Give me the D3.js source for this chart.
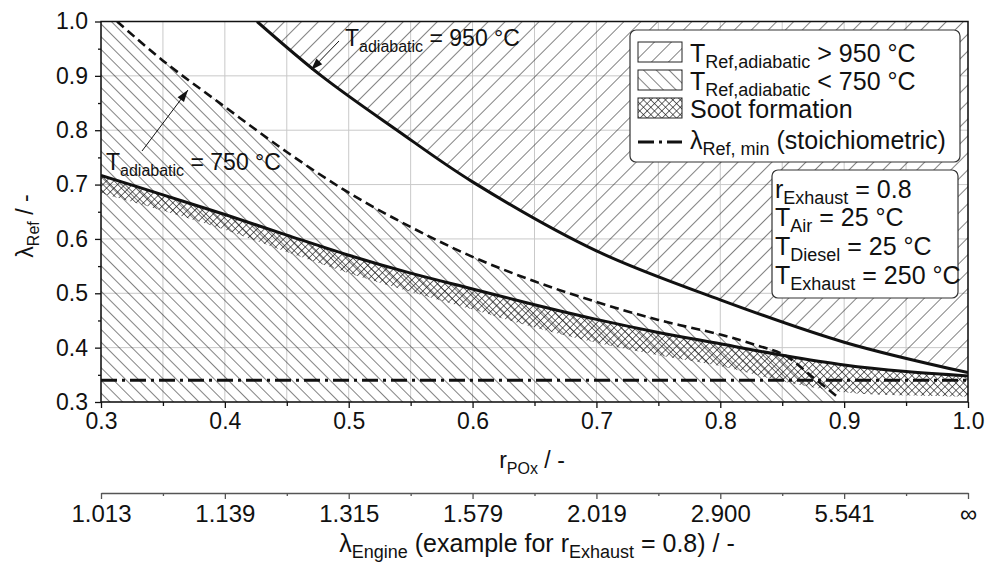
<!DOCTYPE html>
<html>
<head>
<meta charset="utf-8">
<script src="https://cdn.jsdelivr.net/npm/d3@7"></script>
<style>
  body { margin: 0; background: #fff; }
  text { font-family: "Liberation Sans", Arial, sans-serif; fill: #111; white-space: pre; }
</style>
</head>
<body>
<script>
// values
var upperR      = [0.426, 0.478, 0.539, 0.60, 0.70, 0.80, 0.90, 1.0]
var upperLambda = [1.0, 0.9, 0.8, 0.705, 0.578, 0.488, 0.410, 0.354]

var dashR      = [0.313, 0.35, 0.40, 0.45, 0.50, 0.55, 0.60, 0.65, 0.70, 0.75, 0.80, 0.83, 0.852, 0.874, 0.896]
var dashLambda = [1.0, 0.928, 0.843, 0.760, 0.685, 0.622, 0.567, 0.522, 0.484, 0.451, 0.424, 0.404, 0.386, 0.347, 0.307]

var lowerR      = [0.3, 0.35, 0.4, 0.45, 0.5, 0.55, 0.6, 0.65, 0.7, 0.75, 0.8, 0.85, 0.9, 0.95, 1.0]
var lowerLambda = [0.717, 0.681, 0.645, 0.607, 0.570, 0.537, 0.508, 0.479, 0.452, 0.428, 0.407, 0.386, 0.368, 0.356, 0.348]
var sootBottom  = [0.684, 0.652, 0.617, 0.576, 0.537, 0.503, 0.470, 0.437, 0.409, 0.386, 0.366, 0.338, 0.318, 0.312, 0.310]

var lambdaMin = 0.34

var xTicks      = [0.3, 0.4, 0.5, 0.6, 0.7, 0.8, 0.9, 1.0]
var xMinorTicks = [0.35, 0.45, 0.55, 0.65, 0.75, 0.85, 0.95]
var yTicks      = [0.3, 0.4, 0.5, 0.6, 0.7, 0.8, 0.9, 1.0]
var yMinorTicks = [0.35, 0.45, 0.55, 0.65, 0.75, 0.85, 0.95]
var engineLabels = ['1.013', '1.139', '1.315', '1.579', '2.019', '2.900', '5.541', '\u221e']

var w = 985, h = 564
var padL = 101, padR = 968, padT = 21.5, padB = 402

var x = d3.scaleLinear().domain([0.3, 1.0]).range([padL, padR])
var y = d3.scaleLinear().domain([0.3, 1.0]).range([padB, padT])

var svg = d3.select('body').append('svg').attr('width', w).attr('height', h)
var defs = svg.append('defs')

function hatch (id, size, angle) {
  var p = defs.append('pattern').attr('id', id)
    .attr('patternUnits', 'userSpaceOnUse')
    .attr('width', size).attr('height', size)
    .attr('patternTransform', 'rotate(' + angle + ')')
  p.append('line').attr('x1', 0).attr('y1', -1).attr('x2', 0).attr('y2', size + 1)
    .attr('stroke', '#1a1a1a').attr('stroke-width', 1.1)
  return p
}
hatch('fwd', 12, 45)
hatch('back', 9, -45)
var cross = defs.append('pattern').attr('id', 'cross')
  .attr('patternUnits', 'userSpaceOnUse').attr('width', 5.2).attr('height', 5.2)
  .attr('patternTransform', 'rotate(45)')
cross.append('line').attr('x1', 0).attr('y1', -1).attr('x2', 0).attr('y2', 6.2)
  .attr('stroke', '#111').attr('stroke-width', 1.2)
cross.append('line').attr('x1', -1).attr('y1', 0).attr('x2', 6.2).attr('y2', 0)
  .attr('stroke', '#111').attr('stroke-width', 1.2)

defs.append('clipPath').attr('id', 'plot').append('rect')
  .attr('x', padL).attr('y', padT).attr('width', padR - padL).attr('height', padB - padT)

defs.append('marker').attr('id', 'arrow')
  .attr('viewBox', '0 -5 12 10').attr('refX', 12).attr('refY', 0)
  .attr('markerUnits', 'userSpaceOnUse').attr('markerWidth', 14).attr('markerHeight', 10)
  .attr('orient', 'auto')
  .append('path').attr('d', 'M0,-4L12,0L0,4Z').attr('fill', '#111')

// grid
var grid = svg.append('g').attr('stroke', '#c9c9c9').attr('stroke-width', 1)
grid.selectAll('.gx').data(xTicks.concat(xMinorTicks)).enter().append('line')
  .attr('x1', x).attr('x2', x).attr('y1', padT).attr('y2', padB)
grid.selectAll('.gy').data(yTicks).enter().append('line')
  .attr('x1', padL).attr('x2', padR).attr('y1', y).attr('y2', y)

var plot = svg.append('g').attr('clip-path', 'url(#plot)')

function pts (rs, ls) { return rs.map(function (r, i) { return [r, ls[i]] }) }

var upper = pts(upperR, upperLambda)
var dashed = pts(dashR, dashLambda)
var lower = pts(lowerR, lowerLambda)
var smooth = d3.curveCatmullRom.alpha(0.5)

// > 950 °C region (above upper curve)
plot.append('path').datum(upper)
  .attr('d', d3.area().curve(smooth)
    .x(function (d) { return x(d[0]) }).y0(y(1.0) - 2).y1(function (d) { return y(d[1]) }))
  .attr('fill', 'url(#fwd)')

// < 750 °C region (below dashed curve)
plot.append('path').datum([[0.3, 1.0]].concat(dashed))
  .attr('d', d3.area().curve(smooth)
    .x(function (d) { return x(d[0]) }).y0(y(0.3) + 2).y1(function (d) { return y(d[1]) }))
  .attr('fill', 'url(#back)')

// soot formation band
plot.append('path').datum(lowerR)
  .attr('d', d3.area().curve(smooth)
    .x(function (d) { return x(d) })
    .y0(function (d, i) { return y(sootBottom[i]) })
    .y1(function (d, i) { return y(lowerLambda[i]) }))
  .attr('fill', 'url(#cross)')

var line = d3.line().curve(smooth)
  .x(function (d) { return x(d[0]) }).y(function (d) { return y(d[1]) })

plot.append('path').datum(upper).attr('d', line)
  .attr('fill', 'none').attr('stroke', '#111').attr('stroke-width', 3)
plot.append('path').datum(lower).attr('d', line)
  .attr('fill', 'none').attr('stroke', '#111').attr('stroke-width', 3)
plot.append('path').datum(dashed).attr('d', line)
  .attr('fill', 'none').attr('stroke', '#111').attr('stroke-width', 2.6)
  .attr('stroke-dasharray', '9,5')
plot.append('line')
  .attr('x1', x(0.3)).attr('x2', x(1.0)).attr('y1', y(lambdaMin)).attr('y2', y(lambdaMin))
  .attr('stroke', '#111').attr('stroke-width', 3.2).attr('stroke-dasharray', '16,5,3,5')

// frame
svg.append('rect').attr('x', padL).attr('y', padT)
  .attr('width', padR - padL).attr('height', padB - padT)
  .attr('fill', 'none').attr('stroke', '#111').attr('stroke-width', 1.5)

// axes
function styleAxis (g, size) {
  g.select('.domain').remove()
  g.selectAll('.tick line').attr('stroke', '#111').attr('stroke-width', 1.3)
  g.selectAll('.tick text').attr('font-size', size).attr('fill', '#111')
    .style('font-family', '"Liberation Sans", Arial, sans-serif')
}

svg.append('g').attr('transform', 'translate(0,' + padB + ')')
  .call(d3.axisBottom(x).tickValues(xTicks).tickFormat(d3.format('.1f')).tickSize(6).tickPadding(5))
  .call(styleAxis, 23)
svg.append('g').attr('transform', 'translate(0,' + padB + ')')
  .call(d3.axisBottom(x).tickValues(xMinorTicks).tickFormat('').tickSize(4))
  .call(styleAxis, 23)
svg.append('g').attr('transform', 'translate(' + padL + ',0)')
  .call(d3.axisLeft(y).tickValues(yTicks).tickFormat(d3.format('.1f')).tickSize(6).tickPadding(7))
  .call(styleAxis, 23)
svg.append('g').attr('transform', 'translate(' + padL + ',0)')
  .call(d3.axisLeft(y).tickValues(yMinorTicks).tickFormat('').tickSize(3))
  .call(styleAxis, 23)

// secondary axis: lambda engine
var sec = svg.append('g').attr('transform', 'translate(0,493)')
sec.call(d3.axisBottom(x).tickValues(xTicks)
  .tickFormat(function (d, i) { return engineLabels[i] }).tickSize(6).tickSizeOuter(0).tickPadding(6))
sec.select('.domain').attr('stroke', '#555').attr('stroke-width', 1.6)
sec.selectAll('.tick line').attr('stroke', '#555').attr('stroke-width', 1.3)
sec.selectAll('.tick text').attr('font-size', 24).attr('fill', '#111')
  .style('font-family', '"Liberation Sans", Arial, sans-serif')
svg.append('g').attr('transform', 'translate(0,493)')
  .call(d3.axisBottom(x).tickValues(xMinorTicks).tickFormat('').tickSize(3))
  .call(function (g) {
    g.select('.domain').remove()
    g.selectAll('.tick line').attr('stroke', '#555').attr('stroke-width', 1.3)
  })

// text with subscripts
function rich (sel, tx, ty, parts, size, subSize, anchor) {
  var t = sel.append('text').attr('x', tx).attr('y', ty)
    .attr('font-size', size).attr('text-anchor', anchor || 'start')
  var shift = 0
  parts.forEach(function (p) {
    var want = p[1] ? Math.round(size * 0.25) : 0
    var ts = t.append('tspan').text(p[0]).attr('dy', want - shift)
    if (p[1]) ts.attr('font-size', subSize)
    shift = want
  })
  return t
}

rich(svg, 532, 468, [['r'], ['POx', 1], [' / -']], 23, 16, 'middle')
rich(svg, 537, 552, [['\u03bb'], ['Engine', 1], [' (example for r'], ['Exhaust', 1], [' = 0.8) / -']], 25, 18, 'middle')
rich(svg.append('g').attr('transform', 'translate(33,226) rotate(-90)'), 0, 0,
  [['\u03bb'], ['Ref', 1], [' / -']], 23, 16, 'middle')

// annotations
svg.append('line').attr('x1', 339).attr('y1', 41).attr('x2', 311).attr('y2', 70)
  .attr('stroke', '#111').attr('stroke-width', 1).attr('marker-end', 'url(#arrow)')
rich(svg, 345, 46, [['T'], ['adiabatic', 1], [' = 950 \u00b0C']], 23, 16)
svg.append('line').attr('x1', 142).attr('y1', 151).attr('x2', 188).attr('y2', 90)
  .attr('stroke', '#111').attr('stroke-width', 1).attr('marker-end', 'url(#arrow)')
rich(svg, 106, 170, [['T'], ['adiabatic', 1], [' = 750 \u00b0C']], 23, 16)

// legend
var lg = svg.append('g')
lg.append('rect').attr('x', 630).attr('y', 30).attr('width', 330).attr('height', 132).attr('rx', 6)
  .attr('fill', '#fff').attr('stroke', '#333').attr('stroke-width', 1.2)
var swatches = ['fwd', 'back', 'cross']
swatches.forEach(function (p, i) {
  lg.append('rect').attr('x', 638).attr('y', 42 + i * 28).attr('width', 44).attr('height', 20)
    .attr('fill', 'url(#' + p + ')').attr('stroke', '#222').attr('stroke-width', 1)
})
lg.append('line').attr('x1', 638).attr('x2', 682).attr('y1', 142).attr('y2', 142)
  .attr('stroke', '#111').attr('stroke-width', 3.2).attr('stroke-dasharray', '16,5,3,5')
rich(lg, 690, 62, [['T'], ['Ref,adiabatic', 1], [' > 950 \u00b0C']], 25, 18)
rich(lg, 690, 90, [['T'], ['Ref,adiabatic', 1], [' < 750 \u00b0C']], 25, 18)
rich(lg, 690, 118, [['Soot formation']], 25, 18)
rich(lg, 690, 149, [['\u03bb'], ['Ref, min', 1], [' (stoichiometric)']], 25, 18)

// boundary conditions box
var info = svg.append('g')
info.append('rect').attr('x', 772).attr('y', 170).attr('width', 186).attr('height', 128).attr('rx', 6)
  .attr('fill', '#fff').attr('stroke', '#333').attr('stroke-width', 1.2)
rich(info, 775, 198, [['r'], ['Exhaust', 1], [' = 0.8']], 25, 18)
rich(info, 775, 226, [['T'], ['Air', 1], [' = 25 \u00b0C']], 25, 18)
rich(info, 775, 255, [['T'], ['Diesel', 1], [' = 25 \u00b0C']], 25, 18)
rich(info, 775, 284, [['T'], ['Exhaust', 1], [' = 250 \u00b0C']], 25, 18)
</script>
</body>
</html>
